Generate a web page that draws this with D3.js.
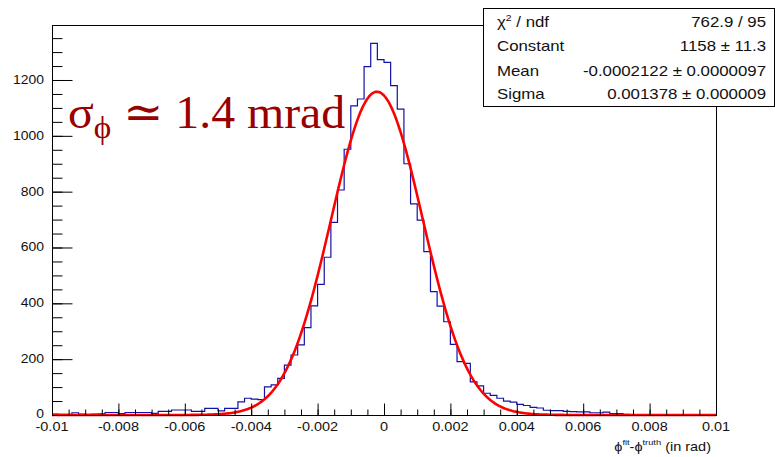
<!DOCTYPE html>
<html><head><meta charset="utf-8">
<script src="https://cdn.jsdelivr.net/npm/d3@7"></script>
<style>body{margin:0;background:#fff} svg{display:block}</style>
</head><body>
<svg id="c" width="775" height="457"></svg>
<script>
// ---------- data ----------
const xDomain = [-0.01, 0.01];
const binWidth = 0.0002;
const counts = [
  3, 2, 2, 8, 3, 2, 3, 4, 9, 9,
  5, 9, 9, 9, 9, 6, 13, 13, 18, 18,
  18, 13, 13, 24, 24, 15, 24, 24, 47, 60,
  57, 55, 101, 108, 131, 179, 215, 251, 313, 391,
  468, 565, 690, 806, 952, 1107, 1132, 1248, 1331, 1273,
  1263, 1180, 1096, 900, 756, 698, 585, 442, 390, 334,
  253, 191, 185, 119, 104, 78, 70, 60, 50, 46,
  38, 34, 27, 25, 17, 16, 16, 13, 12, 11,
  11, 8, 8, 10, 5, 5, 2, 1, 1, 0,
  1, 0, 0, 0, 0, 0, 0, 0, 0, 0
];
const yMax = 1397;
const xTicks = [-0.01, -0.008, -0.006, -0.004, -0.002, 0, 0.002, 0.004, 0.006, 0.008, 0.01];
const xTickLabels = ["-0.01", "-0.008", "-0.006", "-0.004", "-0.002", "0", "0.002", "0.004", "0.006", "0.008", "0.01"];
const yTicks = [0, 200, 400, 600, 800, 1000, 1200];
const yTickLabels = ["0", "200", "400", "600", "800", "1000", "1200"];
const fitConstant = 1158;
const fitMean = -0.0002122;
const fitSigma = 0.001378;
const statsLabels = ["χ", "Constant", "Mean", "Sigma"];
const statsValues = ["762.9 / 95", "1158 ± 11.3", "-0.0002122 ± 0.0000097", "0.001378 ± 0.000009"];

// ---------- layout ----------
const SX = 1.16;
const svg = d3.select("#c");
const L = 52, R = 716, T = 25, B = 415;
const x = d3.scaleLinear().domain(xDomain).range([L, R]);
const y = d3.scaleLinear().domain([0, yMax]).range([B, T]);
const sans = "'Liberation Sans', Arial, Helvetica, sans-serif";
const serif = "'Liberation Serif', 'Times New Roman', 'DejaVu Serif', serif";

function txt(g, px, py, s, size, anchor, fam) {
  return g.append("text")
    .attr("transform", `translate(${px},${py}) scale(${SX},1)`)
    .attr("text-anchor", anchor || "start")
    .attr("font-family", fam || sans)
    .attr("font-size", size)
    .attr("fill", "#111")
    .text(s);
}

// histogram
const pts = counts.map((c, i) => [xDomain[0] + i * binWidth, c]);
pts.push([xDomain[0] + counts.length * binWidth, counts[counts.length - 1]]);
const stepLine = d3.line().x(d => x(d[0])).y(d => y(d[1])).curve(d3.curveStepAfter);
svg.append("path").attr("d", stepLine(pts))
  .attr("fill", "none").attr("stroke", "#1212a8").attr("stroke-width", 1.2);

// fit curve (Gaussian with the fitted parameters)
const fx = d3.range(0, 401).map(k => xDomain[0] + (xDomain[1] - xDomain[0]) * k / 400);
const gauss = v => fitConstant * Math.exp(-0.5 * Math.pow((v - fitMean) / fitSigma, 2));
svg.append("path")
  .attr("d", d3.line().x(d => x(d)).y(d => y(gauss(d)))(fx))
  .attr("fill", "none").attr("stroke", "#ff0000").attr("stroke-width", 2.6)
  .attr("stroke-linejoin", "round");

// frame
svg.append("rect").attr("x", L + 0.5).attr("y", T + 0.5)
  .attr("width", R - L).attr("height", B - T)
  .attr("fill", "none").attr("stroke", "#000").attr("stroke-width", 1);

// x ticks
const xMinor = d3.range(0, 41).map(k => xDomain[0] + k * 0.0005);
const ax = svg.append("g").attr("transform", `translate(0,${B + 0.5})`);
ax.call(d3.axisBottom(x).tickValues(xMinor).tickSize(-6).tickFormat(""));
ax.append("g").call(d3.axisBottom(x).tickValues(xTicks).tickSize(-12).tickFormat(""));
ax.selectAll(".domain").remove();
ax.selectAll("line").attr("stroke", "#000");
xTicks.forEach((t, i) => txt(svg, x(t), 431, xTickLabels[i], 12.5, "middle"));

// y ticks
const yMinor = d3.range(0, 1400, 50);
const ay = svg.append("g").attr("transform", `translate(${L + 0.5},0)`);
ay.call(d3.axisLeft(y).tickValues(yMinor).tickSize(-10).tickFormat(""));
ay.append("g").call(d3.axisLeft(y).tickValues(yTicks).tickSize(-20).tickFormat(""));
ay.selectAll(".domain").remove();
ay.selectAll("line").attr("stroke", "#000");
yTicks.forEach((t, i) => txt(svg, 44, y(t) + (i === 0 ? 2.5 : 4), yTickLabels[i], 12, "end"));

// x axis title
const xt = txt(svg, 711, 451, "", 12.5, "end");
xt.append("tspan").text("ϕ");
xt.append("tspan").attr("font-size", 8).attr("dy", -6).text("fit");
xt.append("tspan").attr("dy", 6).text("-ϕ");
xt.append("tspan").attr("font-size", 8).attr("dy", -6).text("truth");
xt.append("tspan").attr("dy", 6).text("  (in rad)");

// sigma annotation
const st = svg.append("text")
  .attr("transform", `translate(68,128) scale(1.04,1)`)
  .attr("font-family", serif)
  .attr("font-size", 46).attr("fill", "#990000");
st.append("tspan").text("σ");
st.append("tspan").attr("font-size", 32).attr("dy", 10).text("ϕ");
st.append("tspan").attr("dy", -10).text(" ≃ 1.4 mrad");

// stats box
svg.append("rect").attr("x", 483.5).attr("y", 8.5).attr("width", 291).attr("height", 98)
  .attr("fill", "#fff").attr("stroke", "#000").attr("stroke-width", 1);
const rowY = [26.7, 50.7, 75.5, 99.3];
statsLabels.forEach((s, i) => {
  const t = txt(svg, 497, rowY[i], s, 14.5, "start");
  if (i === 0) {
    t.append("tspan").attr("font-size", 9).attr("dy", -6).text("2");
    t.append("tspan").attr("dy", 6).text(" / ndf");
  }
});
statsValues.forEach((s, i) => txt(svg, 766, rowY[i], s, 14.5, "end"));
</script>
</body></html>
